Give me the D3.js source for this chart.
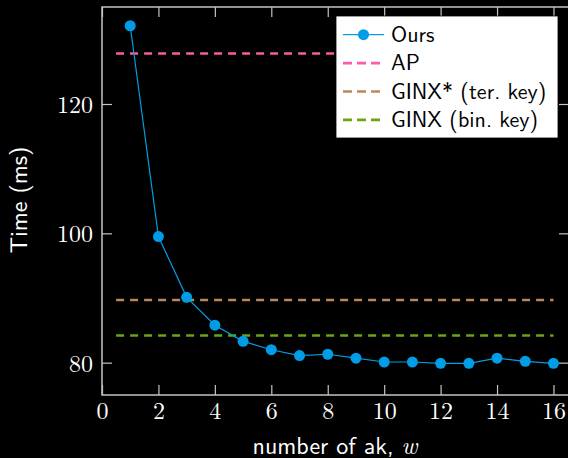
<!DOCTYPE html>
<html>
<head>
<meta charset="utf-8">
<script src="https://cdn.jsdelivr.net/npm/d3@7"></script>
<style>
    html, body { margin: 0; padding: 0; background: #000; }
    svg { display: block; }
</style>
</head>
<body>
<div id="chart"></div>
<script>
// values
const wValues = [1, 2, 3, 4, 5, 6, 7, 8, 9, 10, 11, 12, 13, 14, 15, 16];
const oursTime = [132.1, 99.5, 90.1, 85.8, 83.3, 82.0, 81.1, 81.3, 80.7, 80.1, 80.1, 79.9, 79.9, 80.7, 80.2, 79.9];
const baselineNames = ["AP", "GINX* (ter. key)", "GINX (bin. key)"];
const baselineTime = [127.8, 89.7, 84.2];
const baselineColors = ["#ff5aa5", "#b8895c", "#66a80f"];
const xTicks = [0, 2, 4, 6, 8, 10, 12, 14, 16];
const yTicks = [80, 100, 120];

(function () {
    const width = 568, height = 458;
    const left = 102, top = 7, right = 569, bottom = 395;
    const blue = "#009de6";
    const axisColor = "#c4c4c4";
    const serif = "'Latin Modern Roman', 'Liberation Serif', serif";
    const sans = "'Latin Modern Sans', 'DejaVu Sans', sans-serif";

    const xScale = d3.scaleLinear().domain([0, 16.55]).range([left, right]);
    const yScale = d3.scaleLinear().domain([75, 135]).range([bottom, top]);

    const svg = d3.select("#chart").append("svg")
        .attr("width", width)
        .attr("height", height);

    svg.append("rect").attr("width", width).attr("height", height).attr("fill", "#000");

    // baselines (dashed, from w = 0.5 to 16)
    svg.append("g")
        .selectAll("line")
        .data(baselineTime)
        .enter()
        .append("line")
        .attr("x1", xScale(0.5))
        .attr("x2", xScale(16))
        .attr("y1", d => yScale(d))
        .attr("y2", d => yScale(d))
        .attr("stroke", (d, i) => baselineColors[i])
        .attr("stroke-width", 2.6)
        .attr("stroke-dasharray", "8,6");

    // ours
    const pts = wValues.map((w, i) => [w, oursTime[i]]);
    svg.append("path")
        .datum(pts)
        .attr("fill", "none")
        .attr("stroke", blue)
        .attr("stroke-width", 1.2)
        .attr("d", d3.line().x(d => xScale(d[0])).y(d => yScale(d[1])));

    svg.append("g")
        .selectAll("circle")
        .data(pts)
        .enter()
        .append("circle")
        .attr("cx", d => xScale(d[0]))
        .attr("cy", d => yScale(d[1]))
        .attr("r", 5.5)
        .attr("fill", blue);

    // frame + ticks on all four sides, ticks pointing inwards
    const tickLen = 10;
    const sides = [
        {axis: d3.axisBottom(xScale).tickValues(xTicks), at: `translate(0,${bottom})`},
        {axis: d3.axisTop(xScale).tickValues(xTicks).tickFormat(""), at: `translate(0,${top})`},
        {axis: d3.axisLeft(yScale).tickValues(yTicks), at: `translate(${left},0)`},
        {axis: d3.axisRight(yScale).tickValues(yTicks).tickFormat(""), at: `translate(${right},0)`}
    ];

    const gs = sides.map(s => {
        const g = svg.append("g")
            .attr("transform", s.at)
            .call(s.axis.tickSize(-tickLen).tickSizeOuter(0));
        g.select(".domain").remove();
        g.selectAll(".tick line").attr("stroke", axisColor).attr("stroke-width", 1.2);
        g.selectAll(".tick text")
            .attr("fill", "#fff")
            .style("font-family", serif)
            .style("font-size", "24px");
        return g;
    });

    gs[0].selectAll(".tick text").attr("y", 24).attr("dy", 0);
    gs[2].selectAll(".tick text").attr("x", -9).attr("dy", "0.35em");

    svg.append("rect")
        .attr("x", left)
        .attr("y", top)
        .attr("width", right - left)
        .attr("height", bottom - top)
        .attr("fill", "none")
        .attr("stroke", axisColor)
        .attr("stroke-width", 1.5);

    // axis labels
    svg.append("text")
        .attr("x", 335)
        .attr("y", 454)
        .attr("text-anchor", "middle")
        .attr("fill", "#fff")
        .style("font-family", sans)
        .style("font-size", "24px")
        .html("number of ak, <tspan style=\"font-family:'Latin Modern Roman',serif;font-style:italic\">w</tspan>");

    svg.append("text")
        .attr("transform", "translate(27,200) rotate(-90)")
        .attr("text-anchor", "middle")
        .attr("fill", "#fff")
        .style("font-family", sans)
        .style("font-size", "24px")
        .text("Time (ms)");

    // legend
    const lg = svg.append("g").attr("transform", "translate(336,16)");
    lg.append("rect")
        .attr("width", 222)
        .attr("height", 122)
        .attr("fill", "#fff")
        .attr("stroke", "#000")
        .attr("stroke-width", 0.8);

    const rowY = i => 18.7 + i * 28.4;
    const entries = ["Ours"].concat(baselineNames);
    const colors = [blue].concat(baselineColors);

    const rows = lg.selectAll("g.entry")
        .data(entries)
        .enter()
        .append("g")
        .attr("class", "entry")
        .attr("transform", (d, i) => `translate(0,${rowY(i)})`);

    rows.append("line")
        .attr("x1", 7)
        .attr("x2", 48)
        .attr("stroke", (d, i) => colors[i])
        .attr("stroke-width", (d, i) => i === 0 ? 1.2 : 2.6)
        .attr("stroke-dasharray", (d, i) => i === 0 ? null : "9,5");

    rows.filter((d, i) => i === 0)
        .append("circle")
        .attr("cx", 27.5)
        .attr("r", 5.5)
        .attr("fill", blue);

    rows.append("text")
        .attr("x", 55)
        .attr("y", 7)
        .attr("fill", "#000")
        .style("font-family", sans)
        .style("font-size", "22px")
        .text(d => d);
})()
</script>
</body>
</html>
